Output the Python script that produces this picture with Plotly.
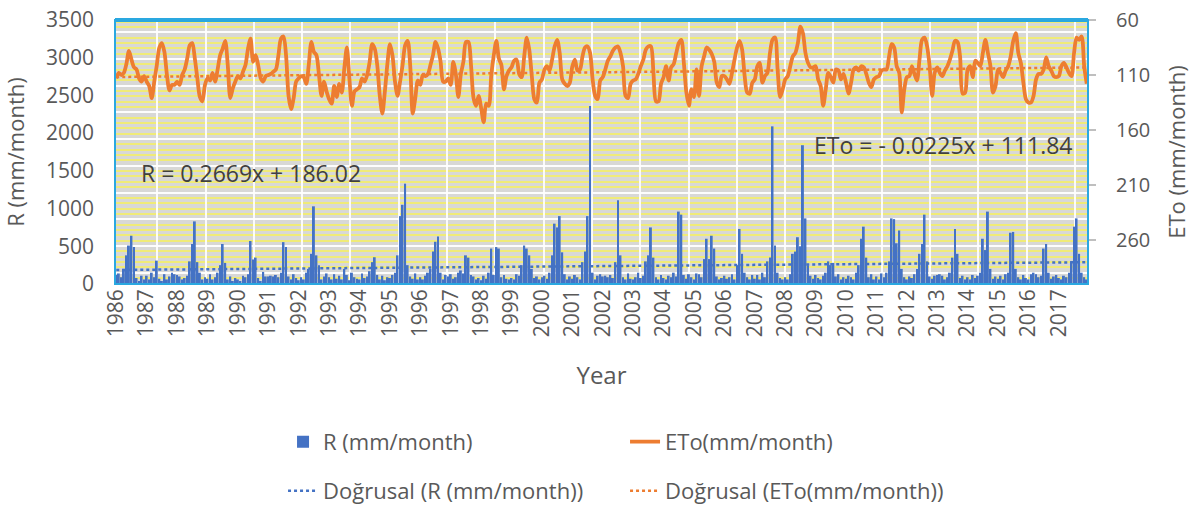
import plotly.graph_objects as go

# ---------------- data ----------------
year_labels = [str(y) for y in range(1986, 2018)]

# Monthly rainfall R (mm/month), Jan..Dec, one row per year 1986..2017
rain_mm = [
    120, 140, 90, 200, 380, 510, 640, 490, 80, 40, 110, 60,      # 1986
    110, 60, 150, 90, 310, 70, 40, 130, 60, 100, 150, 130,       # 1987
    120, 100, 60, 80, 110, 300, 530, 830, 290, 150, 60, 90,      # 1988
    70, 130, 60, 90, 150, 250, 530, 280, 60, 100, 40, 80,        # 1989
    60, 40, 110, 90, 130, 570, 325, 350, 80, 40, 160, 100,       # 1990
    100, 110, 100, 120, 90, 150, 555, 490, 100, 60, 130, 80,     # 1991
    50, 90, 60, 150, 200, 400, 1030, 380, 250, 60, 100, 140,     # 1992
    90, 60, 130, 70, 110, 60, 200, 120, 50, 150, 90, 70,         # 1993
    60, 140, 80, 100, 170, 290, 355, 120, 60, 110, 50, 90,       # 1994
    80, 120, 150, 380, 900, 1050, 1330, 250, 100, 70, 140, 60,   # 1995
    90, 60, 110, 150, 200, 430, 560, 630, 150, 60, 120, 100,     # 1996
    130, 70, 90, 150, 180, 140, 380, 350, 120, 100, 60, 80,      # 1997
    50, 110, 70, 150, 470, 120, 490, 470, 90, 120, 70, 60,       # 1998
    80, 60, 130, 110, 250, 510, 470, 380, 200, 80, 100, 60,      # 1999
    90, 110, 70, 150, 380, 800, 750, 900, 420, 130, 60, 100,     # 2000
    70, 120, 90, 60, 290, 430, 900, 2360, 150, 60, 110, 130,     # 2001
    100, 110, 90, 120, 80, 290, 1110, 380, 90, 60, 140, 70,      # 2002
    60, 90, 150, 80, 110, 300, 380, 750, 350, 90, 60, 120,       # 2003
    80, 60, 110, 90, 150, 100, 960, 920, 120, 70, 130, 90,       # 2004
    60, 140, 130, 90, 330, 600, 330, 640, 470, 100, 60, 80,      # 2005
    110, 70, 90, 130, 60, 250, 730, 400, 150, 90, 60, 120,       # 2006
    70, 120, 60, 150, 90, 300, 350, 2090, 510, 150, 80, 60,      # 2007
    90, 60, 130, 400, 430, 620, 500, 1840, 870, 250, 110, 70,    # 2008
    120, 80, 60, 110, 150, 300, 250, 280, 100, 130, 60, 90,      # 2009
    70, 110, 90, 60, 150, 250, 600, 760, 350, 90, 130, 60,       # 2010
    100, 60, 140, 90, 150, 300, 870, 860, 540, 710, 200, 90,     # 2011
    60, 100, 80, 130, 200, 400, 530, 920, 300, 100, 70, 110,     # 2012
    120, 130, 110, 60, 90, 150, 350, 730, 400, 80, 110, 60,      # 2013
    90, 60, 120, 80, 110, 150, 600, 450, 960, 200, 70, 100,      # 2014
    70, 110, 60, 130, 150, 680, 690, 200, 90, 60, 120, 80,       # 2015
    60, 130, 150, 130, 90, 110, 470, 530, 150, 70, 100, 120,     # 2016
    80, 60, 110, 90, 150, 300, 760, 870, 400, 150, 90, 60,       # 2017
]

# Monthly ETo (mm/month), Jan..Dec, one row per year 1986..2017
eto_mm = [
    113, 108, 110, 108, 100, 88, 96, 103, 105, 113, 116, 111,    # 1986
    116, 120, 131, 116, 101, 85, 81, 89, 110, 124, 119, 119,     # 1987
    116, 119, 110, 105, 95, 83, 81, 95, 113, 130, 134, 119,      # 1988
    113, 115, 108, 116, 105, 92, 86, 79, 101, 131, 122, 116,     # 1989
    111, 113, 107, 101, 86, 77, 98, 92, 101, 113, 116, 111,      # 1990
    110, 109, 107, 105, 92, 77, 75, 92, 129, 141, 131, 116,      # 1991
    113, 111, 112, 118, 100, 80, 89, 92, 110, 129, 116, 125,     # 1992
    132, 136, 120, 130, 118, 126, 104, 85, 113, 138, 125, 123,   # 1993
    121, 113, 116, 110, 98, 82, 86, 101, 129, 145, 125, 100,     # 1994
    82, 92, 116, 129, 116, 101, 83, 79, 101, 145, 131, 115,      # 1995
    119, 110, 111, 109, 101, 92, 80, 86, 98, 116, 116, 113,      # 1996
    119, 98, 109, 130, 109, 98, 80, 80, 101, 131, 138, 129,      # 1997
    140, 153, 136, 138, 110, 92, 79, 95, 101, 123, 111, 106,     # 1998
    103, 97, 96, 109, 112, 93, 76, 87, 111, 132, 135, 117,       # 1999
    114, 105, 102, 106, 96, 84, 78, 90, 114, 118, 120, 117,      # 2000
    102, 96, 106, 105, 93, 85, 84, 90, 114, 129, 132, 115,       # 2001
    112, 105, 97, 93, 88, 85, 84, 90, 102, 129, 131, 118,        # 2002
    115, 114, 109, 102, 96, 87, 84, 84, 108, 134, 134, 118,      # 2003
    112, 102, 115, 103, 100, 90, 81, 78, 99, 126, 138, 123,      # 2004
    130, 105, 129, 102, 93, 85, 87, 91, 98, 117, 121, 111,       # 2005
    111, 114, 118, 108, 96, 85, 79, 87, 111, 126, 127, 117,      # 2006
    114, 102, 99, 117, 111, 108, 90, 78, 76, 105, 130, 123,      # 2007
    114, 111, 102, 93, 90, 81, 66, 72, 90, 99, 103, 103,         # 2008
    102, 114, 120, 138, 123, 108, 112, 117, 105, 106, 114, 109,  # 2009
    117, 127, 117, 105, 103, 106, 102, 103, 109, 117, 121, 114,  # 2010
    112, 111, 106, 105, 105, 93, 82, 85, 102, 108, 144, 123,     # 2011
    112, 111, 102, 109, 115, 96, 78, 76, 84, 102, 129, 108,      # 2012
    103, 108, 111, 106, 102, 96, 88, 79, 80, 93, 127, 126,       # 2013
    105, 102, 112, 97, 99, 102, 90, 78, 90, 102, 126, 120,       # 2014
    105, 108, 112, 106, 102, 93, 79, 72, 90, 99, 117, 132,       # 2015
    135, 135, 129, 114, 109, 109, 105, 94, 102, 106, 111, 112,   # 2016
    111, 102, 99, 103, 108, 111, 90, 76, 78, 75, 102, 118,       # 2017
]

# Linear trend equations shown on the chart (slope, intercept)
r_trend = [0.2669, 186.02]
eto_trend = [-0.0225, 111.84]

# ---------------- derived ----------------
month_idx = list(range(1, len(rain_mm) + 1))
tick_pos = month_idx[::12]
r_fit = [r_trend[0] * m + r_trend[1] for m in month_idx]
eto_fit = [eto_trend[0] * m + eto_trend[1] for m in month_idx]

FONT = "Open Sans"
TXT = "#595959"
BLUE = "#4472C4"
ORANGE = "#ED7D31"

fig = go.Figure()

# dummy trace to host the background pattern axes
fig.add_trace(go.Scatter(x=[None], y=[None], xaxis="x2", yaxis="y3",
                         showlegend=False, hoverinfo="skip"))

fig.add_trace(go.Bar(x=month_idx, y=rain_mm, name="R (mm/month)",
                     marker=dict(color=BLUE, line=dict(width=0)),
                     legend="legend"))
fig.add_trace(go.Scatter(x=month_idx, y=eto_mm, name="ETo(mm/month)", yaxis="y2",
                         mode="lines", line=dict(color=ORANGE, width=3.8, shape="spline", smoothing=0.8),
                         legend="legend"))
fig.add_trace(go.Scatter(x=month_idx, y=r_fit, name="Doğrusal (R (mm/month))",
                         mode="lines", line=dict(color=BLUE, width=2.5, dash="dot"),
                         legend="legend2"))
fig.add_trace(go.Scatter(x=month_idx, y=eto_fit, name="Doğrusal (ETo(mm/month))", yaxis="y2",
                         mode="lines", line=dict(color=ORANGE, width=2.5, dash="dot"),
                         legend="legend2"))

fig.update_layout(
    width=1193, height=505,
    margin=dict(l=115, r=105, t=20, b=221, autoexpand=False),
    paper_bgcolor="white",
    plot_bgcolor="#D8D8D6",
    font=dict(family=FONT, color=TXT, size=20),
    bargap=0.25,
    showlegend=True,
    xaxis=dict(range=[0.5, len(rain_mm) + 0.5], tickmode="array", tickvals=tick_pos,
               ticktext=year_labels, tickangle=-90, showgrid=False, zeroline=False,
               ticks="", tickfont=dict(size=21, color=TXT), automargin=False,
               title=dict(text="Year", font=dict(size=24, color=TXT), standoff=30)),
    yaxis=dict(range=[0, 3500], dtick=500, showgrid=False, zeroline=False,
               tickfont=dict(size=21, color=TXT), ticklabelstandoff=20, automargin=False,
               ticklabeloverflow="allow",
               title=dict(text="R (mm/month)", font=dict(size=22, color=TXT), standoff=18)),
    yaxis2=dict(overlaying="y", side="right", range=[300, 60],
                tickmode="array", tickvals=[60, 110, 160, 210, 260],
                showgrid=False, zeroline=False, ticks="outside", ticklen=7,
                tickcolor="#BFBFBF", tickwidth=1.5, ticklabelstandoff=16, automargin=False,
                ticklabeloverflow="allow",
                tickfont=dict(size=20, color=TXT),
                title=dict(text="ETo (mm/month)", font=dict(size=22, color=TXT), standoff=20)),
    # background pattern axes (hidden)
    xaxis2=dict(overlaying="x", range=[0, 973], showticklabels=False, ticks="",
                zeroline=False, showgrid=True, gridcolor="rgba(255,255,255,0.9)", gridwidth=1.5,
                tick0=42.2, dtick=48.3, automargin=False),
    yaxis3=dict(overlaying="y", range=[0, 264], showticklabels=False, ticks="",
                zeroline=False, showgrid=True, gridcolor="rgba(255,255,255,0.95)", gridwidth=2,
                tick0=11.4, dtick=26.7, automargin=False,
                minor=dict(showgrid=True, tick0=11.4, dtick=5.34, gridcolor="#F0EB78", gridwidth=1.8)),
    legend=dict(orientation="h", x=0.1727, xanchor="left", y=-0.598, yanchor="middle",
                entrywidth=297, entrywidthmode="pixels",
                font=dict(size=22, color=TXT), bgcolor="rgba(0,0,0,0)"),
    legend2=dict(orientation="h", x=0.1727, xanchor="left", y=-0.784, yanchor="middle",
                 entrywidth=297, entrywidthmode="pixels",
                 font=dict(size=22, color=TXT), bgcolor="rgba(0,0,0,0)"),
)

# plot-area border
fig.add_shape(type="rect", xref="paper", yref="paper", x0=0, x1=1, y0=0, y1=1,
              line=dict(color="#2AA8E0", width=2), layer="above")
fig.add_shape(type="line", xref="paper", yref="paper", x0=0, x1=1, y0=1, y1=1,
              line=dict(color="#2AA8E0", width=4), layer="above")

fig.add_annotation(xref="paper", yref="paper", x=0.14, y=0.42, showarrow=False,
                   xanchor="center", yanchor="middle",
                   text=f"R = {r_trend[0]}x + {r_trend[1]}",
                   font=dict(size=23, color="#404040", family=FONT))
fig.add_annotation(xref="paper", yref="paper", x=0.852, y=0.527, showarrow=False,
                   xanchor="center", yanchor="middle",
                   text=f"ETo = - {abs(eto_trend[0])}x + {eto_trend[1]}",
                   font=dict(size=23, color="#404040", family=FONT))

# remove the default 8px page margin so the figure fills the window exactly
fig.write_html("out.html", config={"displayModeBar": False},
               post_script="document.body.style.margin='0';")
